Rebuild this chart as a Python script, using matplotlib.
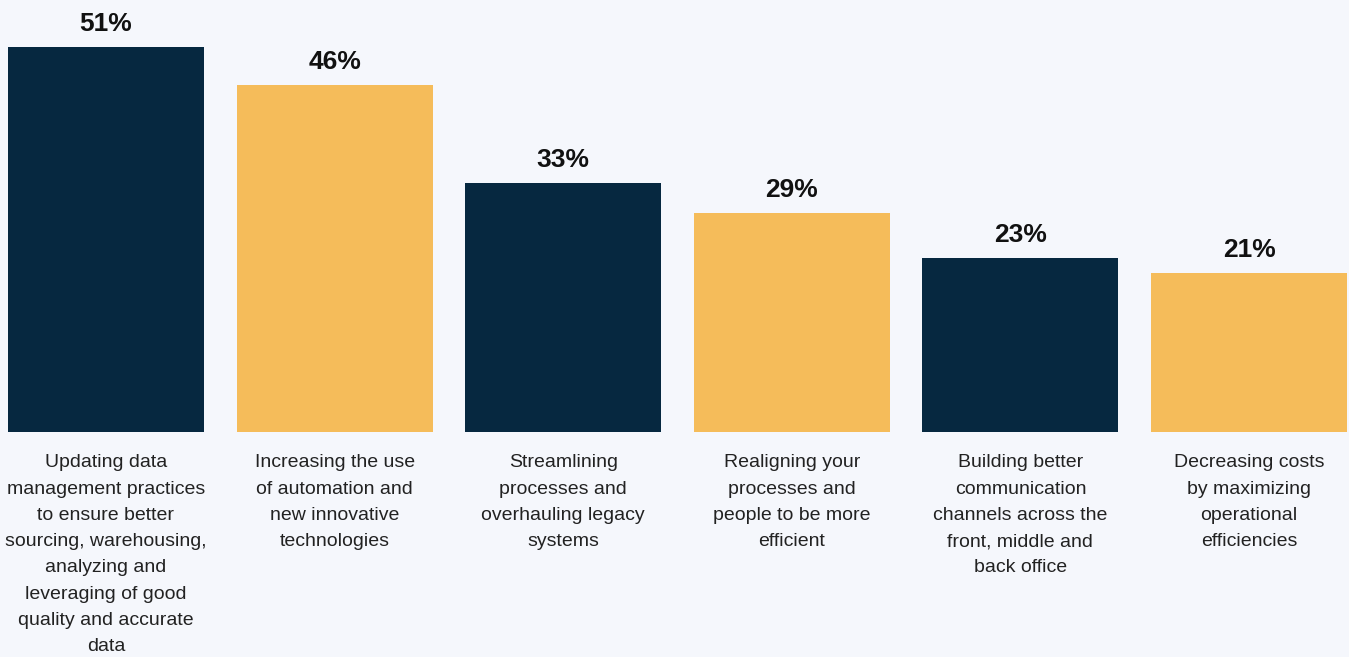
import matplotlib
matplotlib.use("Agg")
import matplotlib.pyplot as plt
from matplotlib.transforms import blended_transform_factory

categories = [
    "Updating data\nmanagement practices\nto ensure better\nsourcing, warehousing,\nanalyzing and\nleveraging of good\nquality and accurate\ndata",
    "Increasing the use\nof automation and\nnew innovative\ntechnologies",
    "Streamlining\nprocesses and\noverhauling legacy\nsystems",
    "Realigning your\nprocesses and\npeople to be more\nefficient",
    "Building better\ncommunication\nchannels across the\nfront, middle and\nback office",
    "Decreasing costs\nby maximizing\noperational\nefficiencies",
]
values = [51, 46, 33, 29, 23, 21]
value_labels = ["51%", "46%", "33%", "29%", "23%", "21%"]
colors = ["#062840", "#F5BC5A", "#062840", "#F5BC5A", "#062840", "#F5BC5A"]

bg = "#F5F7FC"
W, H = 1349, 657
fig = plt.figure(figsize=(W / 100, H / 100), dpi=100, facecolor=bg)
plt.rcParams["font.family"] = ["Liberation Sans", "DejaVu Sans"]

width = 0.857
left_px, right_px, base_px = 8, 1347, 432
ax = fig.add_axes([left_px / W, (H - base_px) / H, (right_px - left_px) / W, base_px / H])
ax.set_facecolor(bg)
x = list(range(len(values)))
ax.bar(x, values, width=width, color=colors)
ax.set_xlim(-width / 2, len(values) - 1 + width / 2)
ax.set_ylim(0, base_px / 7.55)
ax.axis("off")

for xi, v, lab in zip(x, values, value_labels):
    ax.annotate(lab, (xi, v), xytext=(0, 8), textcoords="offset points",
                ha="center", va="bottom", fontsize=19, fontweight="bold",
                color="#111111")

trans = blended_transform_factory(ax.transData, ax.transAxes)
for xi, cat in zip(x, categories):
    ax.annotate(cat, (xi, 0), xycoords=trans, xytext=(0, -16), textcoords="offset points",
                ha="center", va="top", fontsize=14, color="#222222",
                linespacing=1.715, annotation_clip=False)

fig.savefig("out.png", dpi=100, facecolor=bg)
